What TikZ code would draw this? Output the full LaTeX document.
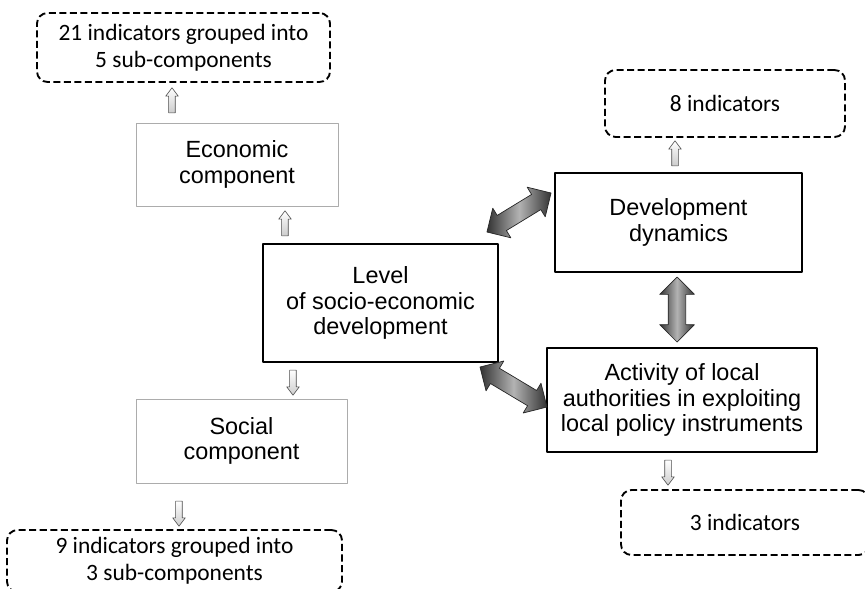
\documentclass[tikz,border=0pt]{standalone}
\usepackage{fontspec}
\setmainfont{Liberation Sans}
\newfontfamily\calfont{Carlito}
\usetikzlibrary{calc,shapes.arrows}

\begin{document}
\begin{tikzpicture}[x=0.03cm, y=-0.03cm, line join=round,
  solidbox/.style={draw=black, line width=2pt, outer sep=0pt, align=center,
    font=\fontsize{20}{21.5}\selectfont},
  thinbox/.style={draw=gray!65, line width=0.8pt, outer sep=0pt, align=center,
    font=\fontsize{20}{21.5}\selectfont},
  dashbox/.style={draw=black, line width=1.6pt, dash pattern=on 6pt off 3pt,
    rounded corners=9pt, outer sep=0pt, align=center,
    font=\calfont\fontsize{20}{23}\selectfont},
  smallarrow/.style={single arrow, draw=gray!60!black, line width=0.5pt,
    top color=white, bottom color=gray!40, inner sep=0.09cm,
    minimum height=0.75cm, minimum width=0.36cm,
    single arrow head extend=0.09cm, single arrow tip angle=74,
    sloped, allow upside down},
  bigarrow/.style={double arrow, draw=black!85, line width=0.6pt,
    left color=black!80, right color=black!80, middle color=gray!60,
    inner sep=0.255cm, minimum width=1.02cm,
    double arrow head extend=0.255cm, sloped, allow upside down}]

% Frame of the picture
\useasboundingbox (0,0) rectangle (865,589);

% Left column
\node[dashbox, minimum width=8.79cm, minimum height=2.07cm] (topbox) at (183.5,47.5)
  {21 indicators grouped into\\5 sub-components};
\node[thinbox, minimum width=6.06cm, minimum height=2.49cm] (eco) at (237,164.5)
  {Economic\\component};
\node[solidbox, minimum width=7.05cm, minimum height=3.54cm] (level) at (380.5,303)
  {Level\\of socio-economic\\development};
\node[thinbox, minimum width=6.33cm, minimum height=2.52cm] (social) at (241.5,441)
  {Social\\component};
\node[dashbox, minimum width=10.05cm, minimum height=1.86cm] (botbox) at (174.5,561)
  {9 indicators grouped into\\3 sub-components};

% Right column
\node[dashbox, minimum width=7.2cm, minimum height=2.01cm] (eight) at (725,103.5)
  {8 indicators};
\node[solidbox, minimum width=7.41cm, minimum height=2.97cm] (dyn) at (678.5,222.5)
  {Development\\dynamics};
\node[solidbox, minimum width=8.1cm, minimum height=3.12cm] (act) at (682,400)
  {Activity of local\\authorities in exploiting\\local policy instruments};
\node[dashbox, minimum width=7.44cm, minimum height=1.95cm] (three) at (745,522.5)
  {3 indicators};

% Small arrows to the indicator boxes
\path ($(eco.north west)+(36,-8)$) -- node[smallarrow] (up1) {} ($(topbox.south west)+(135,8)$);
\path ($(level.north west)+(22,-6)$) -- node[smallarrow] (up2) {} ($(eco.south west)+(149,7)$);
\path ($(level.south west)+(30,6)$) -- node[smallarrow] (down1) {} ($(social.north west)+(157,-6)$);
\path ($(social.south west)+(43,17)$) -- node[smallarrow] (down2) {} ($(botbox.north west)+(172,-7)$);
\path ($(dyn.north)+(-3.5,-5)$) -- node[smallarrow] (up3) {} ($(eight.south west)+(70,6)$);
\path ($(act.south west)+(121,6)$) -- node[smallarrow] (down3) {} ($(three.north west)+(47,-7)$);

% Big two-way arrows
\path ($(dyn.south)+(-1.5,5)$) -- node[bigarrow, minimum height=1.95cm] (dynact) {} ($(act.north)+(-5,-6)$);
\path ($(level.north east)+(-11,-12)$) -- node[bigarrow, minimum height=2.25cm] (levdyn) {} ($(dyn.north west)+(-4,20)$);
\path ($(level.south east)+(-18,5)$) -- node[bigarrow, minimum height=2.34cm] (levact) {} ($(act.west)+(0,7)$);

\end{tikzpicture}
\end{document}
